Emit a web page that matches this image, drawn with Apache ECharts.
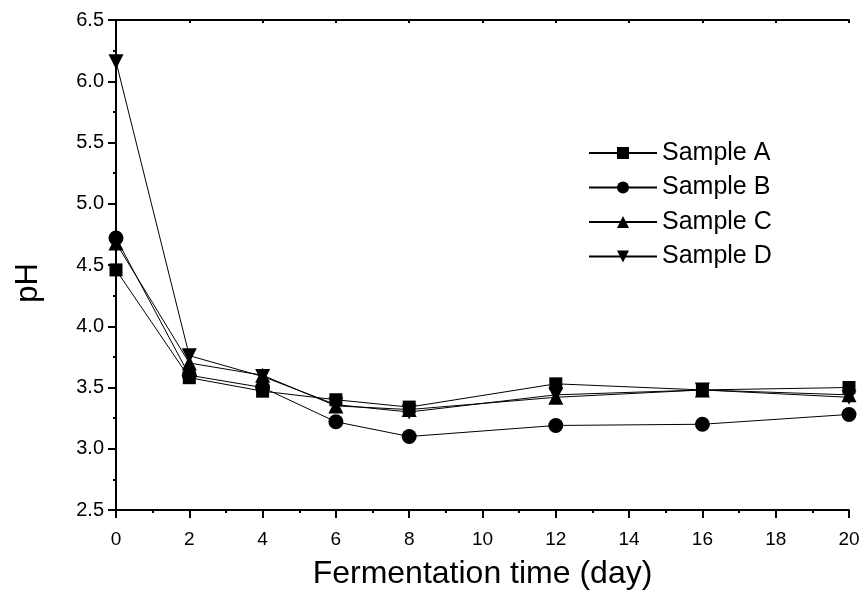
<!DOCTYPE html>
<html>
<head>
<meta charset="utf-8">
<script src="https://cdn.jsdelivr.net/npm/echarts@6/dist/echarts.min.js"></script>
<style>
  html, body { margin: 0; padding: 0; background: #fff; }
  #chart { width: 866px; height: 595px; }
</style>
</head>
<body>
<div id="chart"></div>
<script>
// fermentation days
const days = [0, 2, 4, 6, 8, 12, 16, 20];
// pH per sample
const sampleA = [4.46, 3.58, 3.47, 3.40, 3.34, 3.53, 3.48, 3.50];
const sampleB = [4.72, 3.60, 3.50, 3.22, 3.10, 3.19, 3.20, 3.28];
const sampleC = [4.68, 3.70, 3.60, 3.35, 3.32, 3.42, 3.48, 3.44];
const sampleD = [6.16, 3.76, 3.59, 3.36, 3.30, 3.44, 3.48, 3.42];
const seriesNames = ["Sample A", "Sample B", "Sample C", "Sample D"];

const font = "Liberation Sans, Arial, sans-serif";
const downTriangle = "path://M0,0 L10,0 L5,9 Z";
const symbols = ["rect", "circle", "triangle", downTriangle];
const allValues = [sampleA, sampleB, sampleC, sampleD];

const chart = echarts.init(document.getElementById("chart"));

const series = allValues.map((vals, i) => ({
  name: seriesNames[i],
  type: "line",
  data: days.map((d, j) => [d, vals[j]]),
  symbol: symbols[i],
  symbolSize: i === 0 ? 13 : 15,
  showAllSymbol: true,
  lineStyle: { color: "#000", width: 1 },
  itemStyle: { color: "#000" },
  emphasis: { disabled: true },
  animation: false,
}));

const sideAxis = {
  show: true,
  axisLine: { show: true, lineStyle: { color: "#000", width: 2 } },
  axisTick: { show: true, inside: true, length: 3, lineStyle: { color: "#000", width: 2 } },
  axisLabel: { show: false },
  splitLine: { show: false },
};

chart.setOption({
  animation: false,
  grid: { left: 116, right: 17, top: 20, bottom: 85 },
  legend: {
    orient: "vertical",
    left: 588,
    top: 140,
    padding: 0,
    itemWidth: 68,
    itemHeight: 15,
    itemGap: 8.5,
    textStyle: { fontFamily: font, fontSize: 25, lineHeight: 26, color: "#000" },
    data: seriesNames,
  },
  graphic: [
    {
      type: "text",
      x: 28,
      y: 283,
      rotation: Math.PI / 2,
      style: {
        text: "pH",
        font: "31px Liberation Sans, Arial, sans-serif",
        fill: "#000",
        align: "center",
        verticalAlign: "middle",
      },
    },
  ],
  xAxis: [
    {
      type: "value",
      min: 0,
      max: 20,
      interval: 2,
      name: "Fermentation time (day)",
      nameLocation: "middle",
      nameGap: 48,
      nameTextStyle: { fontFamily: font, fontSize: 32, color: "#000" },
      axisLine: { lineStyle: { color: "#000", width: 2 } },
      axisTick: { length: 8, lineStyle: { color: "#000", width: 2 } },
      minorTick: { show: true, splitNumber: 2, length: 3, lineStyle: { color: "#000", width: 2 } },
      axisLabel: { fontFamily: font, fontSize: 19, color: "#000", margin: 20 },
      splitLine: { show: false },
    },
    Object.assign({ type: "value", min: 0, max: 20, interval: 2, position: "top" }, sideAxis),
  ],
  yAxis: [
    {
      type: "value",
      min: 2.5,
      max: 6.5,
      interval: 0.5,
      axisLine: { lineStyle: { color: "#000", width: 2 } },
      axisTick: { length: 8, lineStyle: { color: "#000", width: 2 } },
      minorTick: { show: true, splitNumber: 2, length: 3, lineStyle: { color: "#000", width: 2 } },
      axisLabel: {
        fontFamily: font,
        fontSize: 20,
        color: "#000",
        margin: 12,
        formatter: (v) => v.toFixed(1),
      },
      splitLine: { show: false },
    },
    Object.assign({ type: "value", min: 2.5, max: 6.5, interval: 0.5, position: "right" }, sideAxis),
  ],
  series: series,
});
</script>
</body>
</html>
